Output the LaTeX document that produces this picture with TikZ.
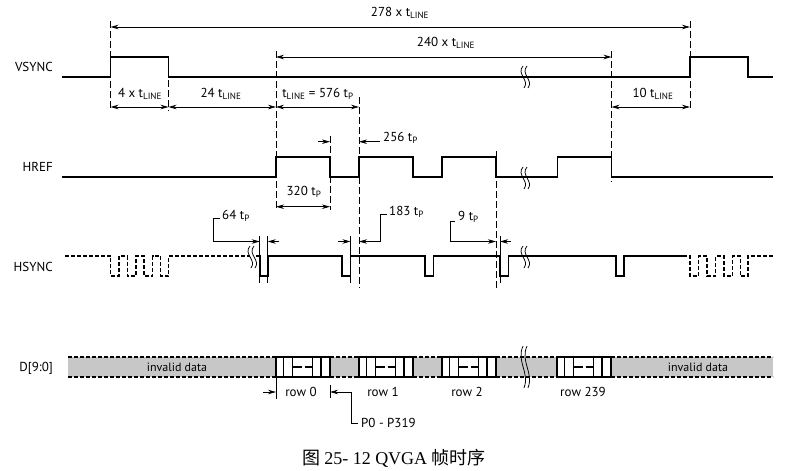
\documentclass[tikz,border=0pt]{standalone}
\usepackage{fontspec}
\setmainfont{PT Sans}
\newfontfamily\cjk{Noto Sans CJK SC}
\newfontfamily\capserif{Liberation Serif}
\usetikzlibrary{arrows.meta}
\newcommand{\tL}{t\textsubscript{LINE}}
\newcommand{\tP}{t\textsubscript{P}}
\tikzset{
  sig/.style={line width=1.6pt},
  sigdash/.style={line width=1.4pt, dash pattern=on 4pt off 2pt},
  dim/.style={line width=0.7pt},
  guide/.style={line width=0.7pt, dash pattern=on 7pt off 3pt},
  tickline/.style={line width=0.6pt},
  lbl/.style={font=\fontsize{13}{15}\selectfont, inner sep=0pt},
  sname/.style={font=\fontsize{13}{15}\selectfont, anchor=east, inner sep=0pt},
  brk/.pic={
    \draw[line width=0.75pt] (-2,-11) .. controls (-9,-3) and (5,3) .. (-1,11);
    \draw[line width=0.75pt] (2,-11) .. controls (-5,-3) and (9,3) .. (3,11);
  }
}
\begin{document}
\begin{tikzpicture}[x=1pt,y=-1pt,>={Stealth[length=8pt,width=4.5pt]}]
\useasboundingbox[fill=white] (0,0) rectangle (811,471);

% signal names
\node[sname] (vs) at (53,67) {VSYNC};
\node[sname] (hr) at (53,167) {HREF};
\node[sname] (hs) at (53,267) {HSYNC};
\node[sname] (dd) at (53,368) {D[9:0]};

% guide lines
\draw[guide] (110.5,21) -- (110.5,111);
\draw[guide] (168.5,80) -- (168.5,111);
\draw[guide] (276,51) -- (276,210);
\draw[guide] (330,136) -- (330,210);
\draw[guide] (359,97) -- (359,288);
\draw[guide] (496,151) -- (496,288);
\draw[guide] (611.5,51) -- (611.5,182);
\draw[guide] (690,21) -- (690,111);

% VSYNC
\draw[sig] (62,76.7) -| (110.5,56.7) -| (168.5,76.7) -| (690,56.7) -| (748,76.7) -- (773,76.7);
\pic at (525,77) {brk};

% top dimensions
\draw[dim,<->] (110.5,27) -- (690,27);
\node[lbl] (l278) at (400,13) {278 x \tL};
\draw[dim,<->] (276,57) -- (611.5,57);
\node[lbl] (l240) at (446,43) {240 x \tL};

% dimensions under VSYNC
\draw[dim,<->] (110.5,107) -- (168.5,107);
\node[lbl] (l4) at (140,94) {4 x \tL};
\draw[dim,<->] (168.5,107) -- (276,107);
\node[lbl] (l24) at (221,94) {24 \tL};
\draw[dim,<->] (276,107) -- (359,107);
\node[lbl] (l576) at (318,94) {\tL\ = 576 \tP};
\draw[dim,<->] (611.5,107) -- (690,107);
\node[lbl] (l10) at (653,94) {10 \tL};

% HREF
\draw[sig] (62,176.7) -| (276,156.7) -| (330,176.7) -| (359,156.7) -| (412.7,176.7) -| (441.7,156.7) -| (496,176.7) -| (557.3,156.7) -| (611.5,176.7) -- (773,176.7);
\pic at (525,178) {brk};
\draw[dim,->] (318,141.7) -- (330,141.7);
\draw[dim,->] (380,141.7) -- (359,141.7);
\node[lbl,anchor=west] (l256) at (383,138) {256 \tP};
\draw[dim,<->] (276,206.7) -- (330,206.7);
\node[lbl] (l320) at (304,192) {320 \tP};

% HSYNC
\draw[sigdash] (65,256) -| (110.7,276) -| (119,256) -| (127.3,276) -| (136,256) -| (144,276) -| (152.5,256) -| (160.7,276) -| (168.5,256) -- (250,256);
\draw[sig] (256,256) -| (259.7,276) -| (267.7,256) -| (341.7,276) -| (350.5,256) -| (425,276) -| (433.3,256) -| (500,276) -| (508.3,256) -| (616,276) -| (624,256) -- (683,256);
\draw[sigdash] (683,256) -| (690,276) -| (698.5,256) -| (707,276) -| (715.5,256) -| (724,276) -| (732.5,256) -| (740.5,276) -| (748,256) -- (773,256);
\pic at (252,257) {brk};
\pic at (525,257) {brk};
\foreach \x in {259.7,267.7,350.5,500} \draw[tickline] (\x,236) -- (\x,283);

\draw[dim,->] (220,218) -- (213,218) -- (213,241.5) -- (259.7,241.5);
\node[lbl,anchor=west] (l64) at (222,216) {64 \tP};
\draw[dim,->] (279,241.5) -- (267.7,241.5);
\draw[dim,->] (338,241.5) -- (350.5,241.5);
\draw[dim,->] (387,214) -- (380,214) -- (380,241.5) -- (359,241.5);
\node[lbl,anchor=west] (l183) at (389,212) {183 \tP};
\draw[dim,->] (455,221.7) -- (450,221.7) -- (450,241.5) -- (496,241.5);
\node[lbl,anchor=west] (l9) at (458,217) {9 \tP};
\draw[dim,->] (511,241.5) -- (500,241.5);

% data band
\fill[black!22] (68,357) rectangle (773,377);
\foreach \a/\b in {68/276,330/359,413/442,496/557,611/773}
  \draw[line width=1.3pt, dash pattern=on 4pt off 2pt] (\a,357) -- (\b,357) (\a,377) -- (\b,377);
\foreach \x in {276,359,442,557} {
  \draw[line width=1.3pt, fill=white] (\x,357) rectangle ++(54,20);
  \draw[line width=1.1pt] (\x+7.5,357) -- ++(0,20) (\x+16.5,357) -- ++(0,20)
        (\x+36.5,357) -- ++(0,20) (\x+45,357) -- ++(0,20);
  \draw[line width=1.1pt, dash pattern=on 9pt off 3pt] (\x+16.5,367) -- (\x+36.5,367);
}
\pic[yscale=1.9] at (525,367) {brk};
\node[lbl,font=\fontsize{12}{14}\selectfont] (inv1) at (177,367) {invalid data};
\node[lbl,font=\fontsize{12}{14}\selectfont] (inv2) at (698,367) {invalid data};

\node[lbl] (r0) at (301,392) {row 0};
\node[lbl] (r1) at (383,392) {row 1};
\node[lbl] (r2) at (467,392) {row 2};
\node[lbl] (r239) at (583,392) {row 239};
\draw[tickline] (276,377) -- (276,399);
\draw[tickline] (330,385) -- (330,398);
\draw[dim,->] (263,392) -- (276,392);
\draw[dim,->] (351,423) -- (351,392) -- (330,392);
\draw[dim] (351,423) -- (358,423);
\node[lbl,anchor=west] (p0) at (361,423) {P0 - P319};

% caption
\node[inner sep=0pt] (cap) at (394,458) {\fontsize{18}{20}\selectfont\cjk 图 \capserif 25- 12 QVGA \cjk 帧时序};
\end{tikzpicture}
\end{document}
